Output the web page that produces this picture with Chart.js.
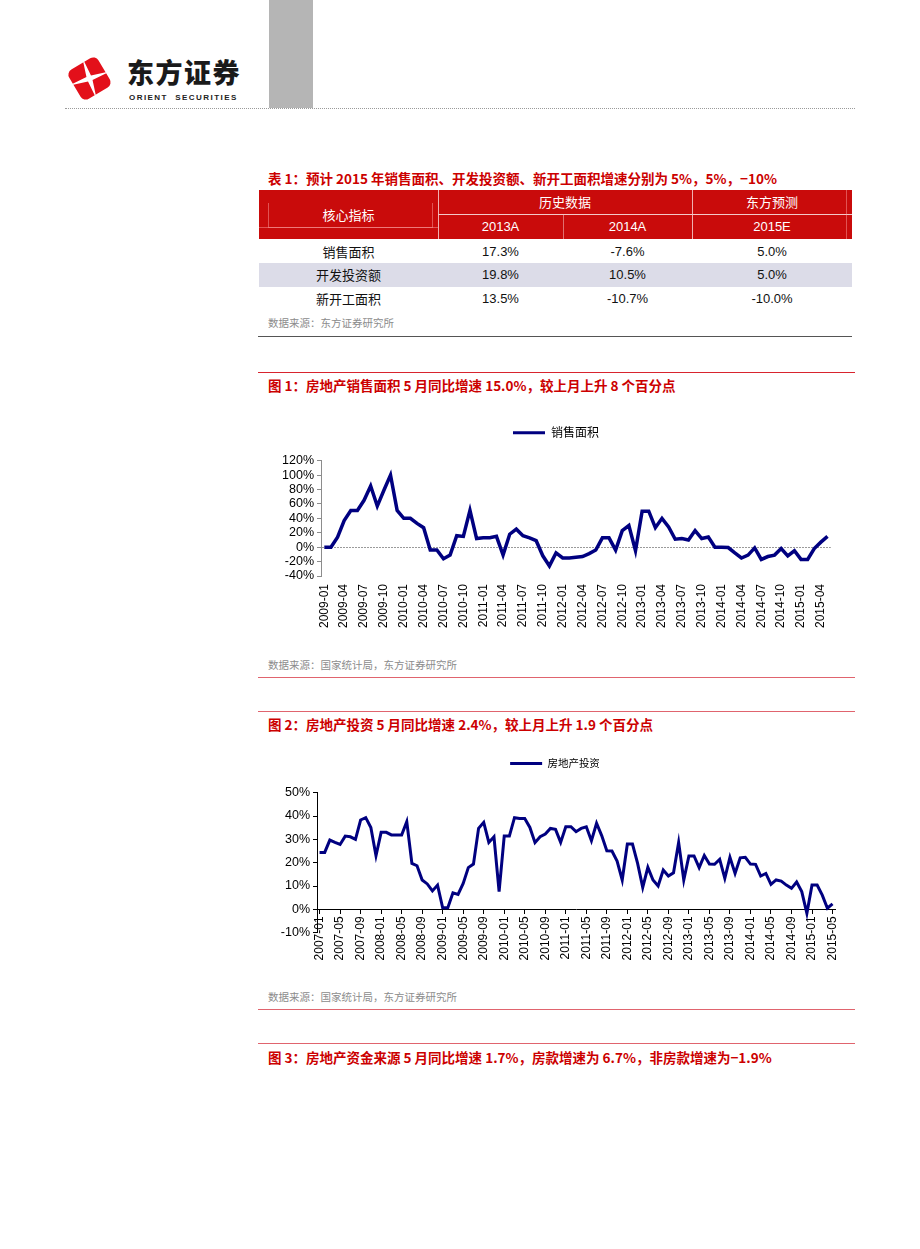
<!DOCTYPE html>
<html>
<head>
<meta charset="utf-8">
<script src="https://cdn.jsdelivr.net/npm/chart.js@4.4.0/dist/chart.umd.min.js"></script>
<style>
  body { margin: 0; background: #fff; }
  #page { position: relative; width: 920px; height: 1249px; overflow: hidden; background: #fff;
          font-family: "Noto Sans CJK SC", "Liberation Sans", sans-serif; }
  .a { position: absolute; white-space: nowrap; }
  .title { color: #cc0000; font-weight: bold; font-size: 13.5px; left: 268px; line-height: 16px; }
  .src { color: #8c8c8c; font-size: 10.5px; left: 268px; line-height: 12px; }
  .rule { left: 258px; width: 597px; height: 0; border-top: 1px solid #e0646e; }
  .hd { color: #fff; font-size: 13px; text-align: center; line-height: 16px; }
  .cell { color: #111; font-size: 13px; text-align: center; line-height: 16px; }
  .num { font-family: "Liberation Sans", Arial, sans-serif; }
  canvas { position: absolute; }
</style>
</head>
<body>
<div id="page">
  <!-- header -->
  <div class="a" style="left:269px;top:0;width:44px;height:108px;background:#b5b5b5"></div>
  <div class="a" style="left:65px;top:108px;width:790px;border-top:1px dotted #9a9a9a"></div>
  <svg class="a" style="left:60px;top:49px" width="60" height="60">
    <g transform="translate(29.5,29.5) rotate(-31)">
      <rect x="-17" y="-17" width="34" height="34" rx="6" fill="#e3101a"/>
      <g transform="rotate(12)">
        <polygon points="0,-22 2.4,-2.4 22,0 2.4,2.4 0,22 -2.4,2.4 -22,0 -2.4,-2.4" fill="#fff"/>
      </g>
    </g>
  </svg>
  <div class="a" style="left:127px;top:56px;font-size:27px;font-weight:900;letter-spacing:1.5px;color:#1a1a1a;line-height:32px">东方证券</div>
  <div class="a" style="left:129px;top:93px;font-family:'Liberation Sans',Arial;font-size:8px;font-weight:bold;letter-spacing:1.45px;color:#222;line-height:9px">ORIENT&nbsp;&nbsp;SECURITIES</div>

  <!-- table -->
  <div class="a title" style="top:170px">表 1：预计 2015 年销售面积、开发投资额、新开工面积增速分别为 5%，5%，−10%</div>
  <div class="a" style="left:259px;top:190px;width:593px;height:49px;background:#c90b0b"></div>
  <div class="a" style="left:438px;top:190px;width:1px;height:49px;background:#f0b0b0"></div>
  <div class="a" style="left:692px;top:190px;width:1px;height:49px;background:#f0b0b0"></div>
  <div class="a" style="left:438px;top:214px;width:414px;height:1px;background:#f3c8c8"></div>
  <div class="a" style="left:563px;top:215px;width:1px;height:24px;background:#e07070"></div>
  <div class="a" style="left:268px;top:203px;width:163px;height:24px;border:1px solid rgba(255,170,170,0.45);border-top:none"></div>
  <div class="a" style="left:259px;top:227px;width:179px;height:1px;background:rgba(255,170,170,0.45)"></div>
  <div class="a" style="left:846px;top:190px;width:1px;height:49px;background:rgba(255,170,170,0.45)"></div>
  <div class="a hd" style="left:259px;width:179px;top:207px">核心指标</div>
  <div class="a hd" style="left:438px;width:254px;top:194px">历史数据</div>
  <div class="a hd" style="left:692px;width:160px;top:194px">东方预测</div>
  <div class="a hd num" style="left:438px;width:125px;top:219px">2013A</div>
  <div class="a hd num" style="left:563px;width:129px;top:219px">2014A</div>
  <div class="a hd num" style="left:692px;width:160px;top:219px">2015E</div>

  <div class="a" style="left:259px;top:263px;width:593px;height:24px;background:#dcdce8"></div>
  <div class="a cell" style="left:259px;width:179px;top:244px">销售面积</div>
  <div class="a cell num" style="left:438px;width:125px;top:244px">17.3%</div>
  <div class="a cell num" style="left:563px;width:129px;top:244px">-7.6%</div>
  <div class="a cell num" style="left:692px;width:160px;top:244px">5.0%</div>
  <div class="a cell" style="left:259px;width:179px;top:267px">开发投资额</div>
  <div class="a cell num" style="left:438px;width:125px;top:267px">19.8%</div>
  <div class="a cell num" style="left:563px;width:129px;top:267px">10.5%</div>
  <div class="a cell num" style="left:692px;width:160px;top:267px">5.0%</div>
  <div class="a cell" style="left:259px;width:179px;top:291px">新开工面积</div>
  <div class="a cell num" style="left:438px;width:125px;top:291px">13.5%</div>
  <div class="a cell num" style="left:563px;width:129px;top:291px">-10.7%</div>
  <div class="a cell num" style="left:692px;width:160px;top:291px">-10.0%</div>
  <div class="a src" style="top:317px">数据来源：东方证券研究所</div>
  <div class="a" style="left:258px;top:336px;width:594px;border-top:1px solid #555"></div>

  <!-- figure 1 -->
  <div class="a rule" style="top:372px;border-top-color:#d8242e"></div>
  <div class="a title" style="top:377px">图 1：房地产销售面积 5 月同比增速 15.0%，较上月上升 8 个百分点</div>
  <canvas id="salesChart" width="574" height="232" style="left:276px;top:414px"></canvas>
  <div class="a src" style="top:659px">数据来源：国家统计局，东方证券研究所</div>
  <div class="a rule" style="top:677px"></div>

  <!-- figure 2 -->
  <div class="a rule" style="top:711px"></div>
  <div class="a title" style="top:716px">图 2：房地产投资 5 月同比增速 2.4%，较上月上升 1.9 个百分点</div>
  <canvas id="investChart" width="576" height="235" style="left:274px;top:745px"></canvas>
  <div class="a src" style="top:991px">数据来源：国家统计局，东方证券研究所</div>
  <div class="a rule" style="top:1009px"></div>

  <!-- figure 3 -->
  <div class="a rule" style="top:1043px"></div>
  <div class="a title" style="top:1049px">图 3：房地产资金来源 5 月同比增速 1.7%，房款增速为 6.7%，非房款增速为−1.9%</div>
</div>

<script>
// 图1：销售面积累计同比（%），2009-01 ~ 2015-05
const salesStart = [2009, 1];
const salesValues = [0, 0, 14, 37, 51, 51, 65, 85, 57, 79, 100, 51,
  40, 40, 33, 27, -4, -4, -16, -11, 16, 15, 51, 12,
  13, 13, 15, -11, 18, 25, 16, 13, 9, -12, -26, -8,
  -15, -15, -14, -13, -9, -4, 13, 13, -4, 23, 30, -5,
  50, 50, 27, 40, 28, 11, 12, 10, 23, 12, 14, 0,
  0, -0.5, -8, -15, -11, -1, -17, -13, -11, -2, -12, -5,
  -17, -17, -2, 7, 15];
const salesTicks = ['2009-01','2009-04','2009-07','2009-10','2010-01','2010-04','2010-07','2010-10',
  '2011-01','2011-04','2011-07','2011-10','2012-01','2012-04','2012-07','2012-10',
  '2013-01','2013-04','2013-07','2013-10','2014-01','2014-04','2014-07','2014-10',
  '2015-01','2015-04'];

// 图2：房地产投资累计同比（%），2007-01 ~ 2015-05
const investStart = [2007, 1];
const investValues = [24.4, 24.4, 29.7, 28.7, 27.8, 31.4, 31.1, 30, 38.3, 39.3, 35.1, 23,
  33, 33, 31.9, 31.9, 31.9, 37.6, 19.7, 18.7, 12.6, 10.9, 7.9, 10.4,
  0.7, 0.7, 7.1, 6.4, 11.1, 17.9, 19.4, 34.7, 37.3, 28.7, 31.1, 7.6,
  31.4, 31.4, 39.3, 38.9, 38.9, 35.1, 28.6, 31.1, 32.3, 34.7, 34.3, 28.7,
  35.4, 35.4, 33.3, 34.7, 35.4, 29.4, 36.9, 31.6, 25.1, 25, 20.7, 12.6,
  28, 28, 19.7, 9.4, 18, 12.6, 10, 16.9, 14.3, 15.7, 28.7, 12.6,
  22.9, 22.9, 17.9, 23.1, 19.4, 19.3, 21.4, 13.3, 22.3, 15.4, 22.1, 22.3,
  19.4, 19.3, 14.3, 15.4, 10.7, 12.6, 12.1, 10.4, 9, 11.7, 7.6, -1.7,
  10.4, 10.4, 6.1, 0.5, 2.4];
const investTicks = ['2007-01','2007-05','2007-09','2008-01','2008-05','2008-09','2009-01','2009-05',
  '2009-09','2010-01','2010-05','2010-09','2011-01','2011-05','2011-09','2012-01',
  '2012-05','2012-09','2013-01','2013-05','2013-09','2014-01','2014-05','2014-09',
  '2015-01','2015-05'];

function monthLabels(start, n) {
  const out = [];
  for (let i = 0; i < n; i++) {
    const t = start[0] * 12 + (start[1] - 1) + i;
    out.push(Math.floor(t / 12) + '-' + String(t % 12 + 1).padStart(2, '0'));
  }
  return out;
}
const salesMonths = monthLabels(salesStart, salesValues.length);
const investMonths = monthLabels(investStart, investValues.length);

const tickFont = { family: '"Liberation Sans", Arial, sans-serif', size: 12 };
const navy = '#000080';

function legendLabels(chart) {
  return Chart.defaults.plugins.legend.labels.generateLabels(chart).map(l =>
    Object.assign(l, { fillStyle: navy, strokeStyle: navy, lineWidth: 0 }));
}

// lift the legend a bit above the plot, as in the original
const legendShift = {
  id: 'legendShift',
  afterLayout(chart, args, opts) {
    const l = chart.legend;
    if (l) { l.top -= opts.dy; l.bottom -= opts.dy; }
  }
};

// 图1
new Chart(document.getElementById('salesChart'), {
  type: 'line',
  data: {
    labels: salesMonths,
    datasets: [{ label: '销售面积', data: salesValues, borderColor: navy, backgroundColor: navy,
      borderWidth: 3.5, pointRadius: 0, tension: 0 }]
  },
  plugins: [legendShift],
  options: {
    responsive: false, animation: false,
    layout: { padding: { top: 2, right: 14, bottom: 0, left: 0 } },
    plugins: {
      tooltip: { enabled: false },
      legendShift: { dy: 12 },
      legend: { position: 'top', labels: { boxWidth: 32, boxHeight: 3, padding: 10, color: '#000',
        font: { family: '"Noto Sans CJK SC"', size: 12 }, generateLabels: legendLabels } }
    },
    scales: {
      x: {
        offset: true,
        grid: { display: false, drawTicks: false },
        border: { display: false },
        afterFit: s => { s.height = 70; },
        ticks: { autoSkip: false, minRotation: 90, maxRotation: 90, padding: 8, color: '#000', font: tickFont,
          callback: function (v) { const l = this.getLabelForValue(v); return salesTicks.includes(l) ? l : ''; } }
      },
      y: {
        min: -40, max: 120,
        afterFit: s => { s.width = 45; s.paddingTop = 46.7; },
        grid: { drawOnChartArea: true, drawTicks: true, tickLength: 4, tickColor: '#8c8c8c',
          color: c => (c.tick && c.tick.value === 0 ? '#9a9a9a' : 'transparent') },
        border: { display: true, color: '#8c8c8c', dash: [2, 1] },
        ticks: { autoSkip: false, stepSize: 20, padding: 3, color: '#000', font: { family: tickFont.family, size: 12.5 },
          callback: v => v + '%' }
      }
    }
  }
});

// 图2
new Chart(document.getElementById('investChart'), {
  type: 'line',
  data: {
    labels: investMonths,
    datasets: [{ label: '房地产投资', data: investValues, borderColor: navy, backgroundColor: navy,
      borderWidth: 3, pointRadius: 0, tension: 0 }]
  },
  plugins: [legendShift],
  options: {
    responsive: false, animation: false,
    layout: { padding: { top: 2, right: 14, bottom: 47.3, left: 0 } },
    plugins: {
      tooltip: { enabled: false },
      legendShift: { dy: 14 },
      legend: { position: 'top', labels: { boxWidth: 32, boxHeight: 3, padding: 10, color: '#000',
        font: { family: '"Noto Sans CJK SC"', size: 10.5 }, generateLabels: legendLabels } }
    },
    scales: {
      x: {
        offset: true,
        position: { y: 0 },
        grid: { drawOnChartArea: false, drawTicks: true, tickLength: 4,
          tickColor: c => (investTicks.includes(investMonths[c.index]) ? '#000' : 'transparent') },
        border: { display: true, color: '#000', width: 1 },
        ticks: { autoSkip: false, minRotation: 90, maxRotation: 90, padding: 3, color: '#000', font: tickFont,
          callback: function (v) { const l = this.getLabelForValue(v); return investTicks.includes(l) ? l : ''; } }
      },
      y: {
        min: -10, max: 50,
        afterFit: s => { s.width = 43; s.paddingTop = 47.7; },
        grid: { drawOnChartArea: false, drawTicks: true, tickLength: 4, tickColor: '#000' },
        border: { display: true, color: '#000' },
        ticks: { autoSkip: false, stepSize: 10, padding: 3, color: '#000', font: { family: tickFont.family, size: 12.5 },
          callback: v => v + '%' }
      }
    }
  }
});
</script>
</body>
</html>
